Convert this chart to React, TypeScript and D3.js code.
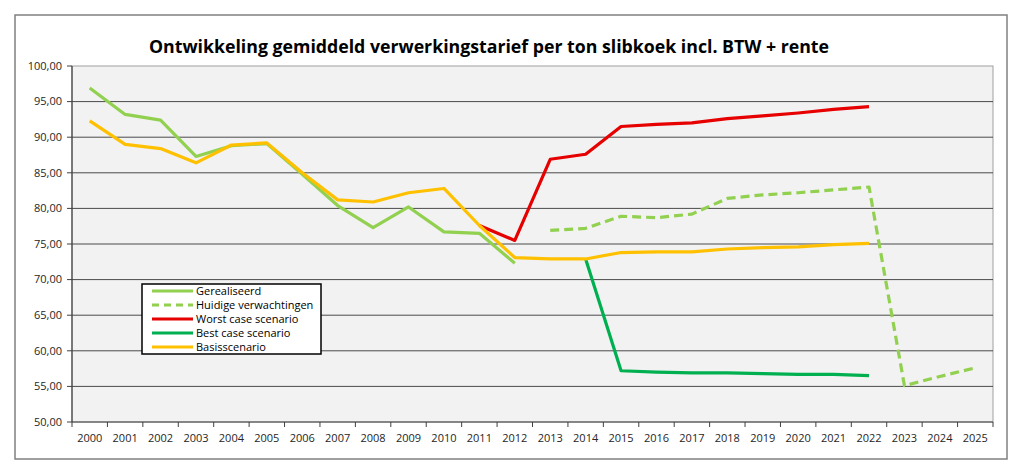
import React from "react";
import * as d3 from "d3";

const years = d3.range(2000, 2026).map(String);
const yTicks = [50, 55, 60, 65, 70, 75, 80, 85, 90, 95, 100];

const gerealiseerd: (number | null)[] = [96.9, 93.2, 92.4, 87.3, 88.8, 89.1, 84.8, 80.4, 77.3, 80.2, 76.7, 76.5, 72.3];
const huidige: (number | null)[] = [null, null, null, null, null, null, null, null, null, null, null, null, null, 76.9, 77.2, 78.9, 78.7, 79.2, 81.4, 81.9, 82.2, 82.6, 83.0, 55.1, 56.4, 57.6];
const worst: (number | null)[] = [null, null, null, null, null, null, null, null, null, null, null, 77.6, 75.5, 86.9, 87.6, 91.5, 91.8, 92.0, 92.6, 93.0, 93.4, 93.9, 94.3];
const best: (number | null)[] = [null, null, null, null, null, null, null, null, null, null, null, null, null, null, 72.9, 57.2, 57.0, 56.9, 56.9, 56.8, 56.7, 56.7, 56.5];
const basis: (number | null)[] = [92.3, 89.0, 88.4, 86.4, 88.9, 89.2, 85.0, 81.2, 80.9, 82.2, 82.8, 77.6, 73.1, 72.9, 72.9, 73.8, 73.9, 73.9, 74.3, 74.5, 74.6, 74.9, 75.1];

const seriesNames = ["Gerealiseerd", "Huidige verwachtingen", "Worst case scenario", "Best case scenario", "Basisscenario"];

const font = "'Open Sans', 'Liberation Sans', sans-serif";

export default function App() {
  const W = 1024, H = 472;
  const left = 72, right = 993, top = 66, bottom = 422;
  const x = d3.scaleBand<string>().domain(years).range([left, right]);
  const y = d3.scaleLinear().domain([50, 100]).range([bottom, top]);
  const cx = (i: number) => (x(years[i]) as number) + x.bandwidth() / 2;

  const line = d3
    .line<number | null>()
    .defined((d) => d !== null)
    .x((_, i) => cx(i))
    .y((d) => y(d as number));

  const series = [
    { name: seriesNames[4], data: basis, color: "#ffc000", dash: "" },
    { name: seriesNames[0], data: gerealiseerd, color: "#92d050", dash: "" },
    { name: seriesNames[2], data: worst, color: "#e60000", dash: "" },
    { name: seriesNames[3], data: best, color: "#00b050", dash: "" },
    { name: seriesNames[1], data: huidige, color: "#92d050", dash: "9,5" },
  ];
  // drawing order: basis drawn on top of realized where they overlap (2004-2007)
  const drawOrder = [series[1], series[2], series[3], series[4], series[0]];

  const legendItems = [
    { name: seriesNames[0], color: "#92d050", dash: "" },
    { name: seriesNames[1], color: "#92d050", dash: "7,5" },
    { name: seriesNames[2], color: "#e60000", dash: "" },
    { name: seriesNames[3], color: "#00b050", dash: "" },
    { name: seriesNames[4], color: "#ffc000", dash: "" },
  ];

  return (
    <svg width={W} height={H} style={{ position: "absolute", left: 0, top: 0, background: "#fff" }}>
      <rect x={15} y={15} width={992} height={444} fill="#fff" stroke="#808080" strokeWidth={1.5} />
      <text x={489} y={53} textAnchor="middle" fontFamily={font} fontWeight="bold" fontSize={18} fill="#000" textLength={680} lengthAdjust="spacingAndGlyphs">
        Ontwikkeling gemiddeld verwerkingstarief per ton slibkoek incl. BTW + rente
      </text>
      <rect x={left} y={top} width={right - left} height={bottom - top} fill="#f2f2f2" stroke="#a0a0a0" strokeWidth={1} />
      {yTicks.map((t) => (
        <g key={t}>
          {t !== 50 && t !== 100 && (
            <line x1={left} x2={right} y1={y(t)} y2={y(t)} stroke="#4a4a4a" strokeWidth={1} />
          )}
          <line x1={left - 5} x2={left} y1={y(t)} y2={y(t)} stroke="#404040" />
          <text x={62} y={y(t)} dy="0.35em" textAnchor="end" fontFamily={font} fontSize={11} fill="#262626">
            {t.toFixed(2).replace(".", ",")}
          </text>
        </g>
      ))}
      <line x1={left} x2={left} y1={top} y2={bottom} stroke="#404040" strokeWidth={1.2} />
      <line x1={left} x2={right} y1={bottom} y2={bottom} stroke="#404040" strokeWidth={1.2} />
      {years.map((yr, i) => (
        <g key={yr}>
          <line x1={x(yr) as number} x2={x(yr) as number} y1={bottom} y2={bottom + 5} stroke="#404040" />
          <text x={cx(i)} y={442} textAnchor="middle" fontFamily={font} fontSize={11} fill="#262626">
            {yr}
          </text>
        </g>
      ))}
      <line x1={right} x2={right} y1={bottom} y2={bottom + 5} stroke="#404040" />
      {drawOrder.map((s) => (
        <path key={s.name} d={line(s.data) || ""} fill="none" stroke={s.color} strokeWidth={3.2} strokeDasharray={s.dash} strokeLinejoin="round" />
      ))}
      <rect x={142} y={284} width={179} height={70} fill="#fff" stroke="#000" strokeWidth={1.5} />
      {legendItems.map((l, i) => {
        const ly = 291 + i * 14;
        return (
          <g key={l.name}>
            <line x1={152} x2={193} y1={ly} y2={ly} stroke={l.color} strokeWidth={3.2} strokeDasharray={l.dash} />
            <text x={196} y={ly} dy="0.35em" fontFamily={font} fontSize={11} fill="#000">
              {l.name}
            </text>
          </g>
        );
      })}
    </svg>
  );
}
